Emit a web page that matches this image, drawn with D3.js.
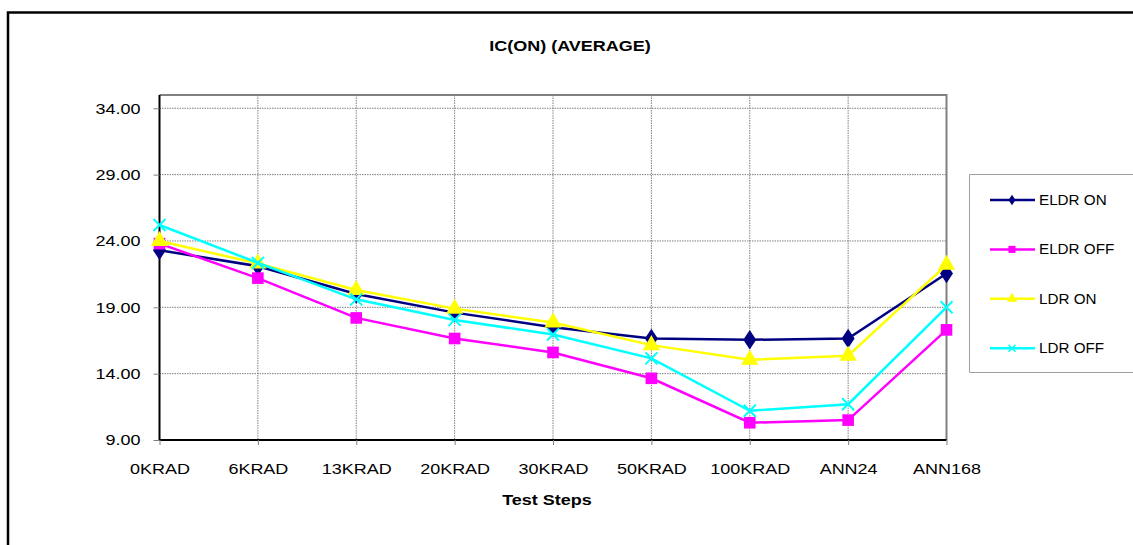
<!DOCTYPE html>
<html><head><meta charset="utf-8">
<script src="https://cdn.jsdelivr.net/npm/d3@7"></script>
<style>body{margin:0;background:#fff}svg{display:block;font-family:Arial,"Liberation Sans",sans-serif}</style>
</head><body>
<svg id="c" width="1133" height="545"></svg>
<script>
const categories = ["0KRAD","6KRAD","13KRAD","20KRAD","30KRAD","50KRAD","100KRAD","ANN24","ANN168"];
const eldrOn  = [23.3, 22.1, 20.0, 18.6, 17.5, 16.65, 16.55, 16.65, 21.55];
const eldrOff = [23.8, 21.2, 18.2, 16.65, 15.6, 13.65, 10.3, 10.5, 17.3];
const ldrOn   = [24.0, 22.3, 20.3, 18.9, 17.85, 16.15, 15.05, 15.35, 22.2];
const ldrOff  = [25.2, 22.35, 19.6, 18.05, 16.95, 15.15, 11.2, 11.7, 19.0];
const yTicks  = [9, 14, 19, 24, 29, 34];
const seriesNames = ["ELDR ON","ELDR OFF","LDR ON","LDR OFF"];
const titleText = "IC(ON) (AVERAGE)";
const xTitleText = "Test Steps";

const series = [
  {name: seriesNames[0], values: eldrOn,  color: "#000080", sym: d3.symbolDiamond, size: 110, lsize: 32},
  {name: seriesNames[1], values: eldrOff, color: "#FF00FF", sym: d3.symbolSquare,  size: 135, lsize: 50},
  {name: seriesNames[2], values: ldrOn,   color: "#FFFF00", sym: d3.symbolTriangle, size: 130, lsize: 48},
  {name: seriesNames[3], values: ldrOff,  color: "#00FFFF", sym: "x", size: 6, lsize: 3.5}
];

const SX = 1.2; // horizontal stretch of the reference's text
const svg = d3.select("#c");
const L = 159.5, R = 946.5, T = 95, B = 440;
const x = d3.scalePoint().domain(categories).range([L, R]);
const y = d3.scaleLinear().domain([9, 35]).range([B, T]);

function stext(px, py, str, size, bold, anchor, sx) {
  return svg.append("text").attr("transform", `translate(${px},${py}) scale(${sx},1)`)
    .attr("text-anchor", anchor).attr("font-size", size)
    .attr("font-weight", bold ? "bold" : null).text(str);
}

// outer chart border
svg.append("path").attr("d", `M8,545 L8,12.5 L1133,12.5`).attr("fill","none").attr("stroke","#000").attr("stroke-width",2.5);

// title
stext(570, 51, titleText, 15, true, "middle", SX);

// gridlines
const g = svg.append("g");
g.selectAll(".hg").data(yTicks).join("line")
  .attr("x1", L).attr("x2", R).attr("y1", d=>y(d)).attr("y2", d=>y(d))
  .attr("stroke","#808080").attr("stroke-width",1).attr("stroke-dasharray","1.5,1");
g.selectAll(".vg").data(categories.slice(1, -1)).join("line")
  .attr("x1", d=>x(d)).attr("x2", d=>x(d)).attr("y1", T).attr("y2", B)
  .attr("stroke","#808080").attr("stroke-width",1).attr("stroke-dasharray","1.5,1");

// plot area gray top/right border
svg.append("path").attr("d", `M${L},${T} L${R},${T} L${R},${B}`).attr("fill","none").attr("stroke","#808080").attr("stroke-width",2);

// axes
const yAxis = d3.axisLeft(y).tickValues(yTicks).tickSize(6).tickPadding(0).tickFormat(d3.format(".2f"));
const ya = svg.append("g").attr("transform", `translate(${L},0)`).call(yAxis);
ya.select(".domain").attr("stroke","#000").attr("stroke-width",2).attr("d", `M0,${B}V${T}`);
ya.selectAll(".tick line").attr("stroke","#808080");
ya.selectAll(".tick text").attr("x", null).attr("font-size",15).attr("font-family","Arial, 'Liberation Sans', sans-serif").attr("fill","#000")
  .attr("transform", `translate(-19,0) scale(${SX},1)`);

const xAxis = d3.axisBottom(x).tickSize(5).tickPadding(0);
const xa = svg.append("g").attr("transform", `translate(0,${B})`).call(xAxis);
xa.select(".domain").attr("stroke","#000").attr("stroke-width",2).attr("d", `M${L},0H${R}`);
xa.selectAll(".tick line").attr("stroke","#808080");
xa.selectAll(".tick text").attr("y", null).attr("dy", "0.71em").attr("font-size",15).attr("font-family","Arial, 'Liberation Sans', sans-serif").attr("fill","#000")
  .attr("transform", `translate(0,23) scale(${SX},1)`);

// x title
stext(547, 505, xTitleText, 15, true, "middle", SX);

// lines
const line = d3.line().x((d,i)=>x(categories[i])).y(d=>y(d));
function marker(sel, s, size, sw) {
  if (s.sym === "x") {
    sel.append("path").attr("d", `M${-size},${-size}L${size},${size}M${-size},${size}L${size},${-size}`)
      .attr("stroke", s.color).attr("stroke-width", sw).attr("fill","none");
  } else {
    sel.append("path").attr("d", d3.symbol().type(s.sym).size(size)()).attr("fill", s.color)
      .attr("transform", s.sym === d3.symbolDiamond ? "scale(1.15,1)" : null);
  }
}
series.forEach(s => {
  svg.append("path").attr("d", line(s.values)).attr("fill","none").attr("stroke", s.color).attr("stroke-width", 2.5);
  s.values.forEach((v,i) => {
    const m = svg.append("g").attr("transform", `translate(${x(categories[i])},${y(v)})`);
    marker(m, s, s.size, 2);
  });
});

// legend
svg.append("path").attr("d", "M1134,174.5 L969.5,174.5 L969.5,372.5 L1134,372.5").attr("fill","#fff").attr("stroke","#a0a0a0").attr("stroke-width",1);
series.forEach((s, i) => {
  const ly = 200 + i * 49.4;
  svg.append("line").attr("x1", 990).attr("x2", 1035).attr("y1", ly).attr("y2", ly).attr("stroke", s.color).attr("stroke-width", 2.5);
  const m = svg.append("g").attr("transform", `translate(1012,${ly})`);
  marker(m, s, s.lsize, 1.5);
  stext(1039, ly, s.name, 14.5, false, "start", 1.05).attr("dy","0.35em");
});
</script>
</body></html>
